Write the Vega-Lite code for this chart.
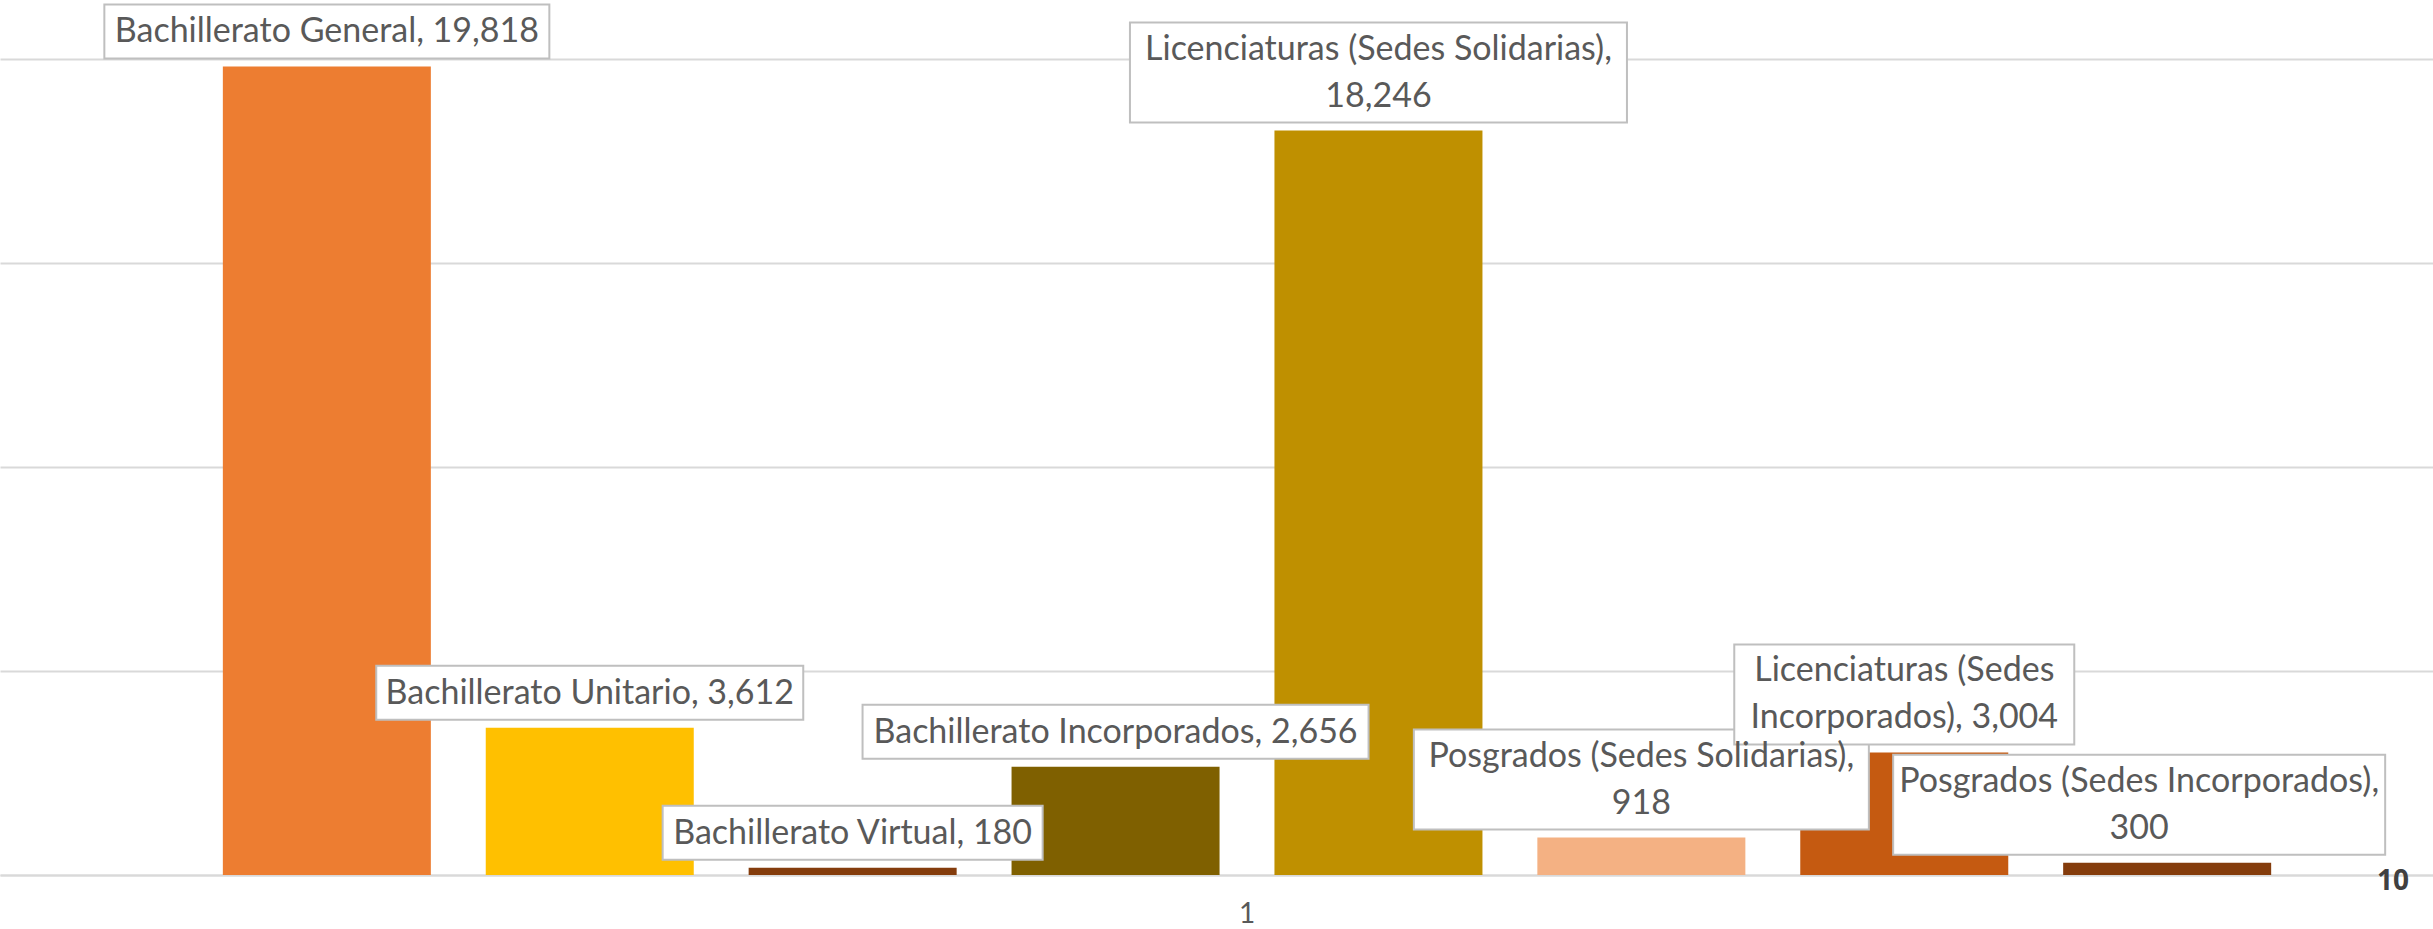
{
  "$schema": "https://vega.github.io/schema/vega-lite/v6.json",
  "width": 2433,
  "height": 816,
  "autosize": {"type": "none"},
  "padding": {"left": 0, "right": 0, "top": 59, "bottom": 54},
  "background": "white",
  "config": {"view": {"stroke": null}, "font": "Lato"},
  "title": {"text": "10", "orient": "bottom", "anchor": "end", "frame": "group", "offset": -60, "dx": -24, "fontSize": 28, "fontWeight": "bold", "color": "#404040", "font": "Open Sans"},
  "data": {"values": [
    {"cat": "1", "series": "Bachillerato General", "value": 19818, "label": "Bachillerato General, 19,818"},
    {"cat": "1", "series": "Bachillerato Unitario", "value": 3612, "label": "Bachillerato Unitario, 3,612"},
    {"cat": "1", "series": "Bachillerato Virtual", "value": 180, "label": "Bachillerato Virtual, 180"},
    {"cat": "1", "series": "Bachillerato Incorporados", "value": 2656, "label": "Bachillerato Incorporados, 2,656"},
    {"cat": "1", "series": "Licenciaturas (Sedes Solidarias)", "value": 18246, "label": "Licenciaturas (Sedes Solidarias),\n18,246"},
    {"cat": "1", "series": "Posgrados (Sedes Solidarias)", "value": 918, "label": "Posgrados (Sedes Solidarias),\n918"},
    {"cat": "1", "series": "Licenciaturas (Sedes Incorporados)", "value": 3004, "label": "Licenciaturas (Sedes\nIncorporados), 3,004"},
    {"cat": "1", "series": "Posgrados (Sedes Incorporados)", "value": 300, "label": "Posgrados (Sedes Incorporados),\n300"}
  ]},
  "encoding": {
    "x": {"field": "cat", "type": "nominal",
      "scale": {"paddingInner": 0, "paddingOuter": 0.0784, "align": 0.5925},
      "axis": {"title": null, "labelAngle": 0, "labelFontSize": 28, "labelColor": "#595959", "labelFont": "Lato", "ticks": false, "domain": true, "domainColor": "#D9D9D9", "domainWidth": 2, "labelPadding": 25, "grid": false}},
    "xOffset": {"field": "series", "type": "nominal",
      "scale": {"domain": ["Bachillerato General", "Bachillerato Unitario", "Bachillerato Virtual", "Bachillerato Incorporados", "Licenciaturas (Sedes Solidarias)", "Posgrados (Sedes Solidarias)", "Licenciaturas (Sedes Incorporados)", "Posgrados (Sedes Incorporados)"], "paddingInner": 0.2088, "paddingOuter": 0.1044}},
    "y": {"field": "value", "type": "quantitative",
      "scale": {"domain": [0, 20000], "nice": false},
      "axis": {"title": null, "labels": false, "ticks": false, "domain": false, "grid": true, "gridColor": "#D9D9D9", "gridWidth": 2, "values": [0, 5000, 10000, 15000, 20000]}}
  },
  "layer": [
    {"mark": {"type": "bar"},
     "encoding": {"color": {"field": "series", "type": "nominal", "legend": null,
       "scale": {"domain": ["Bachillerato General", "Bachillerato Unitario", "Bachillerato Virtual", "Bachillerato Incorporados", "Licenciaturas (Sedes Solidarias)", "Posgrados (Sedes Solidarias)", "Licenciaturas (Sedes Incorporados)", "Posgrados (Sedes Incorporados)"],
                 "range": ["#ED7D31", "#FFC000", "#843C0C", "#7F6000", "#BF9000", "#F4B183", "#C55A11", "#843C0C"]}}}},
    {"mark": {"type": "point", "filled": true, "fill": "white", "stroke": "#BFBFBF", "strokeWidth": 2, "size": 4, "opacity": 1},
     "encoding": {"shape": {"field": "series", "type": "nominal", "legend": null,
       "scale": {"domain": ["Bachillerato General", "Bachillerato Unitario", "Bachillerato Virtual", "Bachillerato Incorporados", "Licenciaturas (Sedes Solidarias)", "Posgrados (Sedes Solidarias)", "Licenciaturas (Sedes Incorporados)", "Posgrados (Sedes Incorporados)"],
                 "range": ["M-222.5,-62H222.5V-8H-222.5Z", "M-213.5,-62H213.5V-8H-213.5Z", "M-190,-62H190V-8H-190Z", "M-253,-62H253V-8H-253Z", "M-248.5,-108H248.5V-8H-248.5Z", "M-227.5,-108H227.5V-8H-227.5Z", "M-170,-108H170V-8H-170Z", "M-274,-108H218V-8H-274Z"]}}}},
    {"transform": [{"filter": "indexof(datum.label, '\\n') < 0"}],
     "mark": {"type": "text", "align": "center", "baseline": "bottom", "dy": -17, "font": "Lato", "fontSize": 34, "color": "#595959", "lineBreak": "\n", "lineHeight": 47},
     "encoding": {"text": {"field": "label"}}},
    {"transform": [{"filter": "indexof(datum.label, '\\n') >= 0 && datum.series != 'Posgrados (Sedes Incorporados)'"}],
     "mark": {"type": "text", "align": "center", "baseline": "bottom", "dy": -64, "font": "Lato", "fontSize": 34, "color": "#595959", "lineBreak": "\n", "lineHeight": 47},
     "encoding": {"text": {"field": "label"}}},
    {"transform": [{"filter": "datum.series == 'Posgrados (Sedes Incorporados)'"}],
     "mark": {"type": "text", "align": "center", "baseline": "bottom", "dy": -64, "dx": -28, "font": "Lato", "fontSize": 34, "color": "#595959", "lineBreak": "\n", "lineHeight": 47},
     "encoding": {"text": {"field": "label"}}}
  ]
}
